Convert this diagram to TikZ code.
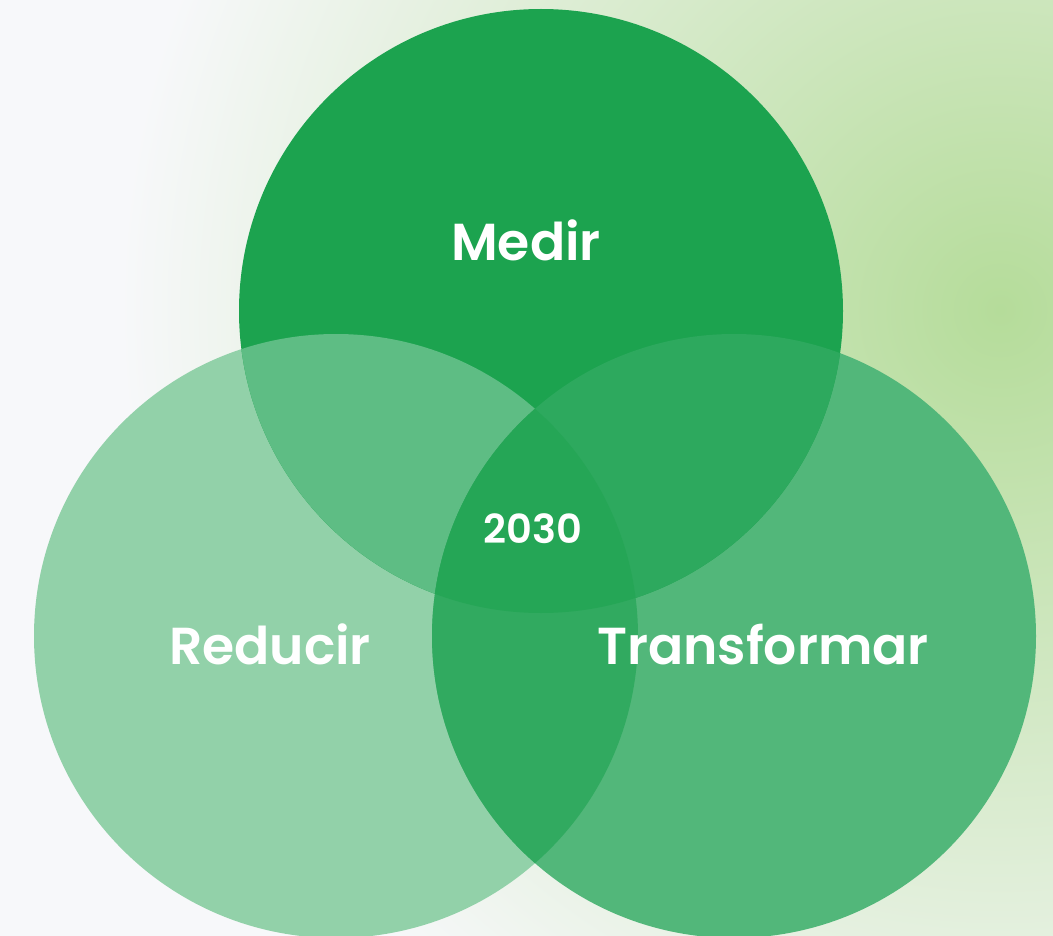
\documentclass[tikz,border=0pt]{standalone}
\usepackage{fontspec}
\setmainfont{Poppins}[BoldFont={* SemiBold}]

\definecolor{bgcol}{HTML}{F7F8FA}
\definecolor{glow}{HTML}{B5DC9A}
\definecolor{medirfill}{HTML}{1CA34F}
\definecolor{reducirfill}{HTML}{92D1A9}
\definecolor{transfill}{HTML}{52B77A}
\definecolor{mrfill}{HTML}{5EBD84}
\definecolor{mtfill}{HTML}{2DA95E}
\definecolor{rtfill}{HTML}{31AA60}
\definecolor{allfill}{HTML}{25A656}

\tikzset{
  venn/.style={circle, minimum size=604pt, inner sep=0pt, draw=none},
  lbl/.style={text=white, font=\bfseries\fontsize{52}{52}\selectfont, anchor=base, inner sep=0pt},
  yearlbl/.style={text=white, font=\bfseries\fontsize{40}{40}\selectfont, anchor=base, inner sep=0pt},
}

\begin{document}
\begin{tikzpicture}[x=1pt,y=-1pt]
        % background with green glow
        \fill [bgcol] (0,0) rectangle (1053,936);
        \begin{scope}
          \clip (0,0) rectangle (1053,936);
          \shade [inner color=glow, outer color=bgcol] (1000,310) circle [radius=880pt];
        \end{scope}
        \useasboundingbox (0,0) rectangle (1053,936);
        % the three circles
        \node [venn, fill=reducirfill] (reducir) at (336,636) {};
        \node [venn, fill=transfill] (transformar) at (734,636) {};
        \node [venn, fill=medirfill] (medir) at (541,311) {};
        % overlaps
        \begin{scope}
          \clip (reducir.center) circle [radius=302pt];
          \fill [mrfill] (medir.center) circle [radius=302pt];
        \end{scope}
        \begin{scope}
          \clip (transformar.center) circle [radius=302pt];
          \fill [mtfill] (medir.center) circle [radius=302pt];
        \end{scope}
        \begin{scope}
          \clip (reducir.center) circle [radius=302pt];
          \fill [rtfill] (transformar.center) circle [radius=302pt];
        \end{scope}
        \begin{scope}
          \clip (reducir.center) circle [radius=302pt];
          \clip (transformar.center) circle [radius=302pt];
          \fill [allfill] (medir.center) circle [radius=302pt];
        \end{scope}
        % labels
        \node [lbl] (medirlbl) at (526,261) {Medir};
        \node [lbl] (reducirlbl) at (270,664) {Reducir};
        \node [lbl] (translbl) at (763,664) {Transformar};
        \node [yearlbl] (yearlbl) at (533,543) {2030};
\end{tikzpicture}
\end{document}
